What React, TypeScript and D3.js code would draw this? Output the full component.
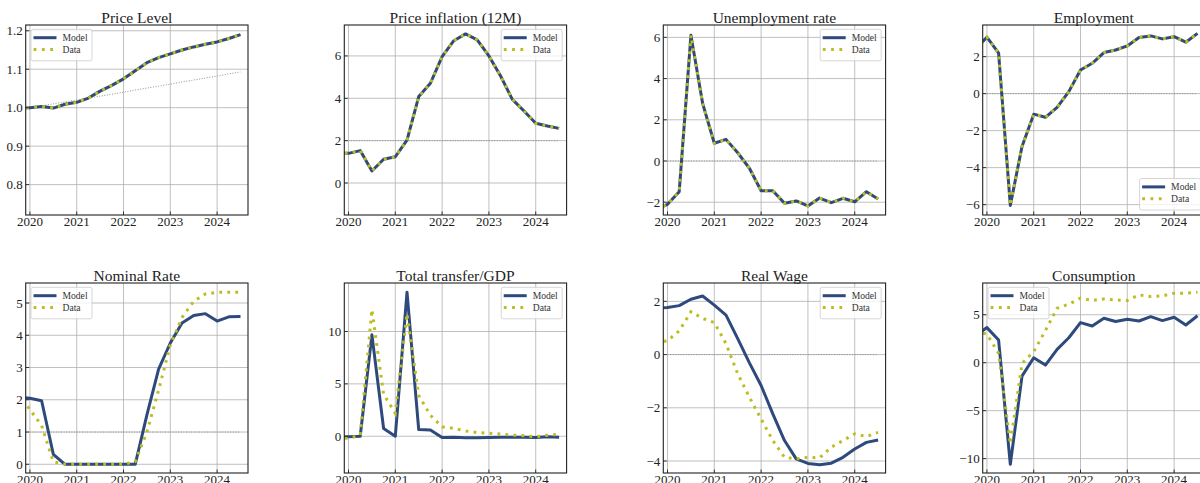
import React from 'react';
import * as d3 from 'd3';

// quarterly observations, 2019Q4 .. 2024Q3 (the first one sits just off the left edge)
const quarters = [
  2019.75, 2020, 2020.25, 2020.5, 2020.75, 2021, 2021.25, 2021.5, 2021.75, 2022,
  2022.25, 2022.5, 2022.75, 2023, 2023.25, 2023.5, 2023.75, 2024, 2024.25, 2024.5,
];
const yearTicks = [2020, 2021, 2022, 2023, 2024];

const priceModel = [0.999, 1.0, 1.003, 0.999, 1.009, 1.014, 1.025, 1.043, 1.058, 1.075, 1.096, 1.117, 1.13, 1.14, 1.15, 1.158, 1.165, 1.171, 1.18, 1.19];
const priceData = [0.999, 1.0, 1.003, 0.999, 1.009, 1.014, 1.025, 1.043, 1.058, 1.075, 1.096, 1.117, 1.13, 1.14, 1.15, 1.158, 1.165, 1.171, 1.18, 1.19];
const priceTrend = [null, 1.0, 1.005, 1.01, 1.015, 1.02, 1.025, 1.03, 1.035, 1.04, 1.046, 1.051, 1.056, 1.061, 1.067, 1.072, 1.077, 1.082, 1.088, 1.093];

const inflModel = [1.4, 1.4, 1.53, 0.57, 1.12, 1.24, 2.03, 4.08, 4.71, 5.97, 6.72, 7.04, 6.76, 6.0, 5.05, 3.95, 3.4, 2.82, 2.69, 2.58];
const inflData = [1.4, 1.4, 1.53, 0.57, 1.12, 1.24, 2.03, 4.08, 4.71, 5.97, 6.72, 7.04, 6.76, 6.0, 5.05, 3.95, 3.4, 2.82, 2.69, 2.58];

const unempModel = [-2.35, -2.1, -1.49, 6.1, 2.8, 0.86, 1.05, 0.4, -0.35, -1.44, -1.44, -2.05, -1.94, -2.18, -1.8, -2.02, -1.81, -1.98, -1.49, -1.84];
const unempData = [-2.35, -2.1, -1.49, 6.1, 2.8, 0.86, 1.05, 0.4, -0.35, -1.44, -1.44, -2.05, -1.94, -2.18, -1.8, -2.02, -1.81, -1.98, -1.49, -1.84];

const emplModel = [2.4, 3.05, 2.19, -6.04, -2.86, -1.11, -1.28, -0.74, 0.11, 1.28, 1.64, 2.22, 2.36, 2.58, 3.03, 3.12, 2.96, 3.08, 2.78, 3.26];
const emplData = [2.4, 3.05, 2.19, -6.04, -2.86, -1.11, -1.28, -0.74, 0.11, 1.28, 1.64, 2.22, 2.36, 2.58, 3.03, 3.12, 2.96, 3.08, 2.78, 3.26];

const rateModel = [2.08, 2.05, 1.97, 0.31, 0, 0, 0, 0, 0, 0, 0, 1.53, 2.95, 3.76, 4.38, 4.61, 4.67, 4.44, 4.57, 4.58];
const rateData = [2.2, 1.7, 1.2, 0.08, 0, 0, 0, 0, 0, 0, 0.08, 1.0, 2.3, 3.7, 4.55, 5.05, 5.28, 5.33, 5.33, 5.33];

const transferModel = [-0.1, -0.05, 0.0, 9.68, 0.74, 0.0, 13.75, 0.64, 0.6, -0.12, -0.1, -0.15, -0.15, -0.12, -0.1, -0.1, -0.1, -0.12, -0.05, -0.1];
const transferData = [-0.2, -0.2, 0.1, 12.1, 4.0, 2.2, 11.7, 3.9, 2.0, 0.9, 0.75, 0.5, 0.35, 0.3, 0.2, 0.1, 0.05, -0.05, 0.1, 0.2];

const wageModel = [1.75, 1.77, 1.84, 2.08, 2.2, 1.86, 1.48, 0.6, -0.31, -1.16, -2.23, -3.23, -3.92, -4.09, -4.14, -4.08, -3.86, -3.55, -3.3, -3.21];
const wageData = [0.45, 0.52, 0.89, 1.61, 1.36, 1.2, 0.41, -0.72, -1.6, -2.42, -3.23, -3.86, -3.92, -3.86, -3.88, -3.48, -3.23, -2.98, -3.08, -2.92];

const consModel = [2.8, 3.66, 2.36, -10.6, -1.4, 0.52, -0.25, 1.39, 2.6, 4.18, 3.83, 4.64, 4.29, 4.53, 4.35, 4.8, 4.39, 4.74, 3.93, 4.9];
const consData = [3.2, 2.99, 0.97, -8.45, -0.07, 1.15, 3.35, 5.68, 6.1, 6.73, 6.49, 6.65, 6.55, 6.49, 7.07, 6.9, 6.96, 7.25, 7.25, 7.35];

const MODEL = '#2e4a7d';
const DATA = '#bcbd22';
const FONT = '"Liberation Serif", "DejaVu Serif", serif';

const colLeft = [25.7, 344.3, 663.3, 982.7];
const rowTop = [25, 283];
const W = 222.3;
const H = 190;

type Panel = {
  title: string; model: number[]; data: number[]; domain: [number, number]; ticks: number[];
  fmt: string; legend: 'ul' | 'ur' | 'lr'; ref?: number; trend?: (number | null)[];
};

const panels: Panel[] = [
  { title: 'Price Level', model: priceModel, data: priceData, domain: [0.721, 1.215], ticks: [0.8, 0.9, 1.0, 1.1, 1.2], fmt: '.1f', legend: 'ul', trend: priceTrend },
  { title: 'Price inflation (12M)', model: inflModel, data: inflData, domain: [-1.51, 7.46], ticks: [0, 2, 4, 6], fmt: 'd', legend: 'ur', ref: 2 },
  { title: 'Unemployment rate', model: unempModel, data: unempData, domain: [-2.62, 6.6], ticks: [-2, 0, 2, 4, 6], fmt: 'd', legend: 'ur', ref: 0 },
  { title: 'Employment', model: emplModel, data: emplData, domain: [-6.56, 3.71], ticks: [-6, -4, -2, 0, 2], fmt: 'd', legend: 'lr', ref: 0 },
  { title: 'Nominal Rate', model: rateModel, data: rateData, domain: [-0.27, 5.62], ticks: [0, 1, 2, 3, 4, 5], fmt: 'd', legend: 'ul', ref: 1 },
  { title: 'Total transfer/GDP', model: transferModel, data: transferData, domain: [-3.51, 14.63], ticks: [0, 5, 10], fmt: 'd', legend: 'ur' },
  { title: 'Real Wage', model: wageModel, data: wageData, domain: [-4.45, 2.69], ticks: [-4, -2, 0, 2], fmt: 'd', legend: 'ur', ref: 0 },
  { title: 'Consumption', model: consModel, data: consData, domain: [-11.5, 8.31], ticks: [-10, -5, 0, 5], fmt: 'd', legend: 'ul' },
];

function Legend({ x, y }: { x: number; y: number }) {
  return (
    <g transform={`translate(${x},${y})`}>
      <rect width={61} height={31.5} rx={2} fill="white" fillOpacity={0.8} stroke="#cccccc" strokeWidth={0.8} />
      <line x1={2.5} x2={25.5} y1={8.4} y2={8.4} stroke={MODEL} strokeWidth={3} />
      <line x1={2.6} x2={25.5} y1={20.2} y2={20.2} stroke={DATA} strokeWidth={3} strokeDasharray="2.8 5.5" />
      <text x={31.5} y={8.4} dy="0.35em" fontSize={9.6} fill="#333">Model</text>
      <text x={31.5} y={20.2} dy="0.35em" fontSize={9.6} fill="#333">Data</text>
    </g>
  );
}

function Chart({ p, i }: { p: Panel; i: number }) {
  const left = colLeft[i % 4];
  const top = rowTop[Math.floor(i / 4)];
  const x = d3.scaleLinear().domain([2019.91, 2024.66]).range([0, W]);
  const y = d3.scaleLinear().domain(p.domain).range([H, 0]);
  const line = d3.line<number | null>()
    .defined((d) => d !== null)
    .x((_, k) => x(quarters[k]))
    .y((d) => y(d as number));
  const fmt = d3.format(p.fmt);
  const clip = `clip-${i}`;
  let lx = 5.3, ly = 4.3;
  if (p.legend === 'ur') lx = W - 4.4 - 61;
  if (p.legend === 'lr') { lx = W - 4.4 - 61; ly = H - 5 - 31.5; }
  return (
    <g transform={`translate(${left},${top})`}>
      <defs>
        <clipPath id={clip}><rect width={W} height={H} /></clipPath>
      </defs>
      <text x={W / 2} y={-2.5} textAnchor="middle" fontSize={15.5} fill="#222">{p.title}</text>
      <g stroke="#b0b0b0" strokeWidth={0.8}>
        {yearTicks.map((t) => <line key={t} x1={x(t)} x2={x(t)} y1={0} y2={H} />)}
        {p.ticks.map((t) => <line key={t} x1={0} x2={W} y1={y(t)} y2={y(t)} />)}
      </g>
      <g clipPath={`url(#${clip})`} fill="none">
        {p.ref !== undefined && (
          <line x1={x(quarters[1])} x2={x(quarters[quarters.length - 1])} y1={y(p.ref)} y2={y(p.ref)}
            stroke="#888" strokeWidth={0.9} strokeDasharray="1 1.6" />
        )}
        {p.trend && <path d={line(p.trend) ?? ''} stroke="#888" strokeWidth={0.9} strokeDasharray="1 1.6" />}
        <path d={line(p.model) ?? ''} stroke={MODEL} strokeWidth={3} strokeLinejoin="round" />
        <path d={line(p.data) ?? ''} stroke={DATA} strokeWidth={3} strokeDasharray="2.8 5.2" />
      </g>
      <g stroke="#222" strokeWidth={0.9}>
        {yearTicks.map((t) => <line key={t} x1={x(t)} x2={x(t)} y1={H} y2={H - 3.5} />)}
        {p.ticks.map((t) => <line key={t} x1={0} x2={3.5} y1={y(t)} y2={y(t)} />)}
      </g>
      <rect width={W} height={H} fill="none" stroke="#222" strokeWidth={1.1} />
      <g fontSize={13} fill="#222">
        {yearTicks.map((t) => <text key={t} x={x(t)} y={H + 11.3} textAnchor="middle">{t}</text>)}
        {p.ticks.map((t) => <text key={t} x={-3} y={y(t)} dy="0.35em" textAnchor="end">{fmt(t)}</text>)}
      </g>
      <Legend x={lx} y={ly} />
    </g>
  );
}

export default function App() {
  return (
    <svg width={1200} height={483} style={{ position: 'absolute', left: 0, top: 0, background: 'white' }} fontFamily={FONT}>
      <rect width={1200} height={483} fill="white" />
      {panels.map((p, i) => <Chart key={p.title} p={p} i={i} />)}
    </svg>
  );
}
